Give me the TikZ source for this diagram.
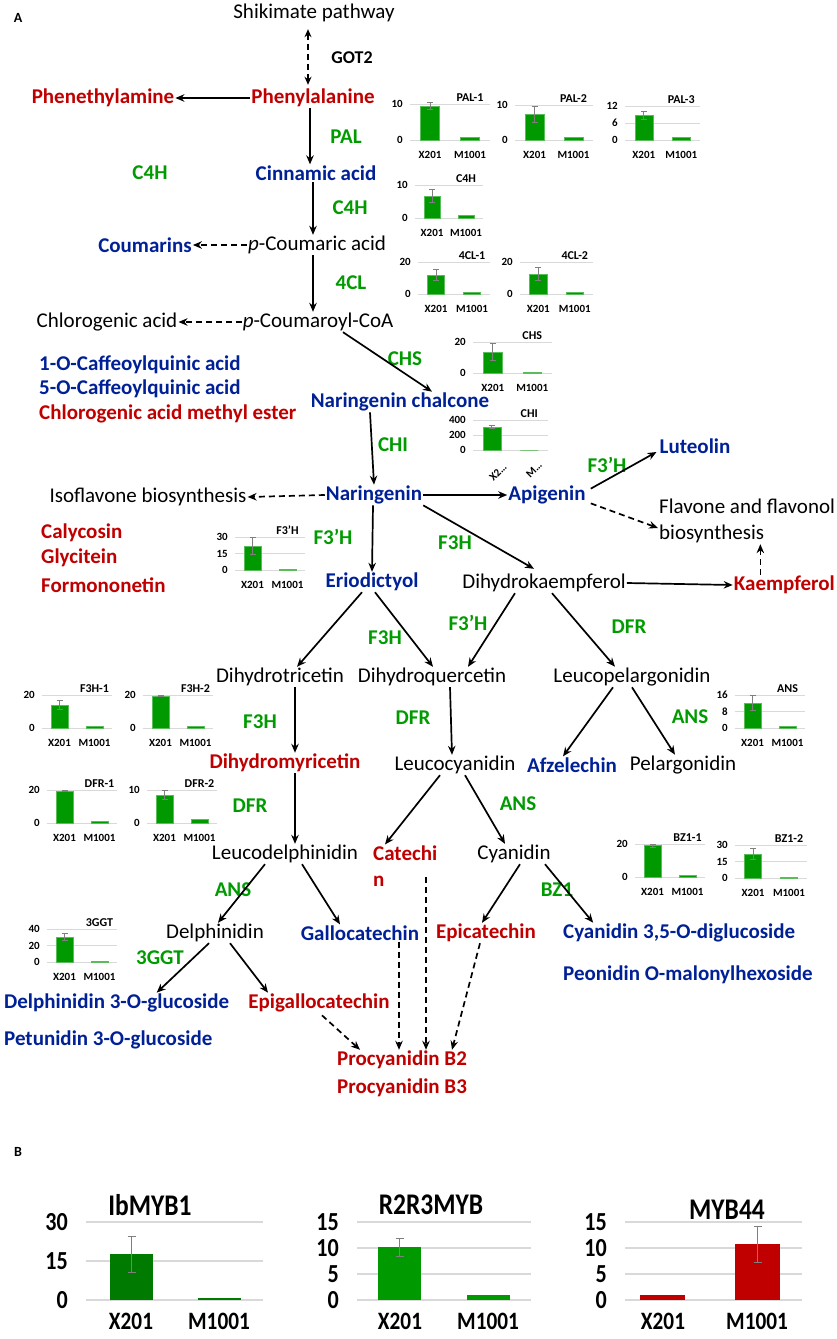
\documentclass[tikz,border=0pt]{standalone}
\usepackage{fontspec}
\setmainfont{Carlito}
\newfontfamily\condfont[FakeStretch=0.85]{Carlito}
\usetikzlibrary{arrows.meta}
\definecolor{pred}{RGB}{192,0,0}
\definecolor{pblue}{RGB}{0,32,150}
\definecolor{pgreen}{RGB}{0,155,0}
\definecolor{barg}{RGB}{0,153,0}
\definecolor{barg1}{RGB}{0,122,0}
\definecolor{barr}{RGB}{192,0,0}
\definecolor{gridg}{RGB}{217,217,217}
\definecolor{errg}{RGB}{127,127,127}

% mini chart: #1 x0, #2 x1, #3 baseline y, #4 top y, #5 title, #6 ticks frac/label, #7 X201 frac, #8 err frac, #9 M1001 frac
\newcommand{\mchart}[9]{%
  \pgfmathsetmacro{\mcw}{#2-#1}%
  \pgfmathsetmacro{\mch}{#3-#4}%
  \foreach \mf/\mt in {#6}{%
    \draw[gridc] (#1,{#3-\mf*\mch}) -- (#2,{#3-\mf*\mch});
    \node[ticklab,anchor=east] at ({#1-7},{#3-\mf*\mch}) {\mt};
  }%
  \draw[barst] ({#1+0.13*\mcw},#3) rectangle ({#1+0.37*\mcw},{#3-#7*\mch});
  \draw[barst] ({#1+0.63*\mcw},#3) rectangle ({#1+0.87*\mcw},{#3-#9*\mch});
  \draw[errst] ({#1+0.25*\mcw},{#3-(#7+#8)*\mch}) -- ({#1+0.25*\mcw},{#3-(#7-#8)*\mch});
  \draw[errst] ({#1+0.25*\mcw-3},{#3-(#7+#8)*\mch}) -- ({#1+0.25*\mcw+3},{#3-(#7+#8)*\mch});
  \draw[errst] ({#1+0.25*\mcw-3},{#3-(#7-#8)*\mch}) -- ({#1+0.25*\mcw+3},{#3-(#7-#8)*\mch});
  \node[ctitle,anchor=base] at ({#1+0.75*\mcw},{#4-3}) {#5};
}
\newcommand{\mlab}[3]{%
  \node[catlab] at ({#1+0.25*(#2-#1)},{#3+15}) {X201};
  \node[catlab] at ({#1+0.75*(#2-#1)},{#3+15}) {M1001};
}

\begin{document}
\begin{tikzpicture}[x=1pt,y=-1pt,
  lblbase/.style={font=\fontsize{21}{26}\selectfont, inner sep=1pt},
  blklbl/.style={lblbase, text=black},
  redlbl/.style={lblbase, font=\bfseries\fontsize{21}{26}\selectfont, text=pred},
  bluelbl/.style={lblbase, font=\bfseries\fontsize{21}{26}\selectfont, text=pblue},
  grnlbl/.style={lblbase, font=\bfseries\fontsize{21}{26}\selectfont, text=pgreen},
  arr/.style={-{Stealth[length=9pt,width=7.5pt]}, line width=1.7pt},
  darr/.style={arr, dash pattern=on 6pt off 4pt},
  ddarr/.style={{Stealth[length=8pt,width=7pt]}-{Stealth[length=8pt,width=7pt]}, line width=1.7pt, dash pattern=on 6pt off 4pt},
  gridc/.style={draw=gridg, line width=0.8pt},
  ticklab/.style={font=\bfseries\fontsize{11}{12}\selectfont, inner sep=0pt},
  barst/.style={fill=barg, draw=barg!65!white, line width=0.5pt},
  errst/.style={draw=errg, line width=0.9pt},
  ctitle/.style={font=\bfseries\fontsize{12}{13}\selectfont, inner sep=0pt},
  catlab/.style={font=\bfseries\fontsize{11}{12}\selectfont, inner sep=0pt},
  bgrid/.style={draw=gridg, line width=1.5pt},
  btick/.style={font=\condfont\bfseries\fontsize{26}{28}\selectfont, inner sep=0pt},
  btitle/.style={font=\condfont\bfseries\fontsize{30}{32}\selectfont, inner sep=0pt},
  bcat/.style={font=\condfont\bfseries\fontsize{25}{27}\selectfont, inner sep=0pt},
  berr/.style={draw=errg, line width=1pt},
  panel/.style={font=\bfseries\fontsize{14}{16}\selectfont, inner sep=0pt}
]
\useasboundingbox (0,0) rectangle (837,1339);
\fill[white] (0,0) rectangle (837,1339);

% ---------------- Panel A: text nodes ----------------
\node[panel] (pA) at (18,18) {A};
\node[blklbl] (shik) at (314,13) {Shikimate pathway};
\node[font=\bfseries\fontsize{18}{20}\selectfont] (got2) at (352,58) {GOT2};
\node[redlbl] (phe) at (313,98) {Phenylalanine};
\node[redlbl] (pea) at (103,98) {Phenethylamine};
\node[grnlbl] (pal) at (346,137) {PAL};
\node[grnlbl] (c4hx) at (150,173) {C4H};
\node[bluelbl] (cin) at (316,173) {Cinnamic acid};
\node[grnlbl] (c4h) at (350,208) {C4H};
\node[blklbl] (pcou) at (317,245) {\textit{p}-Coumaric acid};
\node[bluelbl] (coum) at (145,245) {Coumarins};
\node[grnlbl] (cl4) at (351,283) {4CL};
\node[blklbl] (pcoa) at (318,322) {\textit{p}-Coumaroyl-CoA};
\node[blklbl] (chl) at (107,322) {Chlorogenic acid};
\node[grnlbl] (chs) at (405,359) {CHS};
\node[bluelbl,anchor=west] (caf1) at (38,365) {1-O-Caffeoylquinic acid};
\node[bluelbl,anchor=west] (caf5) at (38,389) {5-O-Caffeoylquinic acid};
\node[redlbl,anchor=west] (cme) at (38,414) {Chlorogenic acid methyl ester};
\node[bluelbl] (nchal) at (400,402) {Naringenin chalcone};
\node[grnlbl] (chi) at (393,445) {CHI};
\node[bluelbl] (nar) at (374,495) {Naringenin};
\node[blklbl] (iso) at (148,497) {Isoflavone biosynthesis};
\node[bluelbl] (api) at (547,495) {Apigenin};
\node[grnlbl] (f3ha) at (607,465) {F3’H};
\node[bluelbl] (lut) at (695,446) {Luteolin};
\node[blklbl,anchor=west,align=left] (flav) at (658,521) {Flavone and flavonol\\biosynthesis};
\node[grnlbl] (f3hb) at (455,543) {F3H};
\node[grnlbl] (f3hc) at (333,537) {F3’H};
\node[redlbl,anchor=west] (caly) at (40,533) {Calycosin};
\node[redlbl,anchor=west] (glyc) at (40,558) {Glycitein};
\node[redlbl,anchor=west] (form) at (40,585) {Formononetin};
\node[bluelbl] (erio) at (372,582) {Eriodictyol};
\node[blklbl] (dhk) at (544,583) {Dihydrokaempferol};
\node[redlbl,anchor=east] (kae) at (836,585) {Kaempferol};
\node[grnlbl] (f3hd) at (385,638) {F3H};
\node[grnlbl] (f3he) at (468,623) {F3’H};
\node[grnlbl] (dfra) at (629,627) {DFR};
\node[blklbl] (dtri) at (280,677) {Dihydrotricetin};
\node[blklbl] (dque) at (432,677) {Dihydroquercetin};
\node[blklbl] (lpel) at (632,677) {Leucopelargonidin};
\node[grnlbl] (f3hf) at (260,722) {F3H};
\node[grnlbl] (dfrb) at (413,718) {DFR};
\node[grnlbl] (ansa) at (690,717) {ANS};
\node[redlbl] (dmyr) at (285,763) {Dihydromyricetin};
\node[blklbl] (lcy) at (455,765) {Leucocyanidin};
\node[bluelbl] (afz) at (572,765) {Afzelechin};
\node[blklbl] (pel) at (683,765) {Pelargonidin};
\node[grnlbl] (dfrc) at (250,806) {DFR};
\node[grnlbl] (ansb) at (518,804) {ANS};
\node[blklbl] (ldel) at (285,854) {Leucodelphinidin};
\node[redlbl,anchor=west,align=left] (cat) at (372,866) {Catechi\\n};
\node[blklbl] (cyan) at (514,854) {Cyanidin};
\node[grnlbl] (ansc) at (233,890) {ANS};
\node[grnlbl] (bz1) at (557,890) {BZ1};
\node[blklbl] (delph) at (215,933) {Delphinidin};
\node[bluelbl] (gallo) at (360,933) {Gallocatechin};
\node[redlbl] (epi) at (486,933) {Epicatechin};
\node[bluelbl,anchor=west] (c35) at (562,933) {Cyanidin 3,5-O-diglucoside};
\node[bluelbl,anchor=west] (peo) at (562,975) {Peonidin O-malonylhexoside};
\node[grnlbl] (ggt) at (160,958) {3GGT};
\node[bluelbl,anchor=west] (d3g) at (3,1003) {Delphinidin 3-O-glucoside};
\node[redlbl] (egc) at (319,1003) {Epigallocatechin};
\node[bluelbl,anchor=west] (pet) at (3,1040) {Petunidin 3-O-glucoside};
\node[redlbl] (pb2) at (402,1060) {Procyanidin B2};
\node[redlbl] (pb3) at (402,1088) {Procyanidin B3};

% ---------------- Panel A: connectors ----------------
\draw[ddarr] ([shift={(-6,6)}]shik.south) -- ([shift={(-5,-3)}]phe.north);
\draw[arr] (phe.west) -- (pea.east);
\draw[arr] ([xshift=-3pt]phe.south) -- ([xshift=-6pt]cin.north);
\draw[arr] ([xshift=-3pt]cin.south) -- ([xshift=-4pt]pcou.north);
\draw[darr] (pcou.west) -- (coum.east);
\draw[arr] ([xshift=-4pt]pcou.south) -- ([xshift=-5pt]pcoa.north);
\draw[darr] (pcoa.west) -- (chl.east);
\draw[arr] ([xshift=25pt]pcoa.south) -- ([xshift=32pt]nchal.north);
\draw[arr] ([xshift=-30pt]nchal.south) -- (nar.north);
\draw[darr] (nar.west) -- (iso.east);
\draw[arr] (nar.east) -- (api.west);
\draw[arr] ([shift={(4,4)}]api.north east) -- ([shift={(-2,6)}]lut.west);
\draw[darr] ([shift={(4,-2)}]api.south east) -- ([shift={(0,7)}]flav.west);
\draw[arr] (nar.south east) -- ([shift={(-10,-4)}]dhk.north);
\draw[arr] ([xshift=-1pt]nar.south) -- (erio.north);
\draw[arr] (dhk.east) -- (kae.west);
\draw[darr] ([xshift=-24pt]kae.north) -- ([xshift=-24pt]kae.north |- flav.south);
\draw[arr] ([xshift=-10pt]erio.south) -- ([xshift=17pt]dtri.north);
\draw[arr] ([xshift=3pt]erio.south) -- ([xshift=1pt]dque.north);
\draw[arr] ([xshift=-29pt]dhk.south) -- ([xshift=36pt]dque.north);
\draw[arr] ([xshift=8pt]dhk.south) -- ([xshift=-17pt]lpel.north);
\draw[arr] ([xshift=15pt]dtri.south) -- ([xshift=10pt]dmyr.north);
\draw[arr] ([xshift=18pt]dque.south) -- ([xshift=-3pt]lcy.north);
\draw[arr] ([xshift=-19pt]lpel.south) -- ([xshift=-9pt]afz.north);
\draw[arr] (lpel.south) -- ([xshift=-8pt]pel.north);
\draw[arr] ([xshift=10pt]dmyr.south) -- ([xshift=10pt]ldel.north);
\draw[arr] ([xshift=-15pt]lcy.south) -- ([xshift=13pt]cat.north west);
\draw[arr] ([xshift=10pt]lcy.south) -- ([xshift=-9pt]cyan.north);
\draw[arr] ([xshift=-20pt]ldel.south) -- ([xshift=3pt]delph.north);
\draw[arr] ([xshift=17pt]ldel.south) -- ([xshift=-20pt]gallo.north);
\draw[arr] ([xshift=6pt]cyan.south) -- ([xshift=-4pt]epi.north);
\draw[arr] ([xshift=31pt]cyan.south) -- ([xshift=-86pt]c35.north);
\draw[arr] ([xshift=-6pt]delph.south) -- ([xshift=40pt]d3g.north);
\draw[arr] ([xshift=15pt]delph.south) -- ([xshift=-51pt]egc.north);
\draw[darr] ([shift={(3,2)}]egc.south) -- ([xshift=-42pt]pb2.north);
\draw[darr] ([xshift=39pt]gallo.south) -- ([xshift=-3pt]pb2.north);
\draw[darr] ([shift={(54,33)}]cat.north west) -- ([xshift=24pt]pb2.north);
\draw[darr] ([xshift=-6pt]epi.south) -- ([xshift=50pt]pb2.north);

% ---------------- Panel A: mini charts ----------------
\mchart{410}{490}{140}{104}{PAL-1}{0/0,1/10}{0.95}{0.1}{0.08}\mlab{410}{490}{140}
\mchart{515}{593}{140}{105}{PAL-2}{0/0,1/10}{0.74}{0.23}{0.08}\mlab{515}{593}{140}
\mchart{625}{700}{140}{106}{PAL-3}{0/0,0.5/6,1/12}{0.72}{0.12}{0.07}\mlab{625}{700}{140}
\mchart{415}{483}{218}{185}{C4H}{0/0,1/10}{0.67}{0.2}{0.08}\mlab{415}{483}{218}
\mchart{418}{490}{294}{262}{4CL-1}{0/0,1/20}{0.6}{0.18}{0.04}\mlab{418}{490}{294}
\mchart{520}{593}{294}{262}{4CL-2}{0/0,1/20}{0.62}{0.2}{0.04}\mlab{520}{593}{294}
\mchart{473}{552}{373}{342}{CHS}{0/0,1/20}{0.68}{0.28}{0.04}\mlab{473}{552}{373}
\mchart{473}{548}{450}{420}{CHI}{0/0,0.5/200,1/400}{0.77}{0.04}{0.0}
\node[catlab,rotate=45] (chix) at (498,472) {X2…};
\node[catlab,rotate=45] (chim) at (534,470) {M…};
\mchart{235}{305}{570}{537}{F3'H}{0/0,0.5/15,1/30}{0.73}{0.27}{0.03}\mlab{235}{305}{570}
\mchart{42}{112}{728}{695}{F3H-1}{0/0,1/20}{0.7}{0.15}{0.05}\mlab{42}{112}{728}
\mchart{143}{213}{728}{695}{F3H-2}{0/0,1/20}{0.97}{0.01}{0.04}\mlab{143}{213}{728}
\mchart{47}{117}{823}{790}{DFR-1}{0/0,1/20}{0.97}{0.01}{0.04}\mlab{47}{117}{823}
\mchart{147}{217}{823}{790}{DFR-2}{0/0,1/10}{0.85}{0.15}{0.1}\mlab{147}{217}{823}
\mchart{735}{805}{728}{695}{ANS}{0/0,0.5/8,1/16}{0.76}{0.22}{0.06}\mlab{735}{805}{728}
\mchart{635}{705}{877}{844}{BZ1-1}{0/0,1/20}{0.95}{0.05}{0.05}\mlab{635}{705}{877}
\mchart{735}{807}{878}{845}{BZ1-2}{0/0,0.5/15,1/30}{0.73}{0.17}{0.03}\mlab{735}{807}{878}
\mchart{47}{117}{962}{929}{3GGT}{0/0,0.5/20,1/40}{0.76}{0.1}{0.02}\mlab{47}{117}{962}

% ---------------- Panel B ----------------
\node[panel] (pB) at (18,1152) {B};
% chart 1
\foreach \yy/\tl in {1300/0,1261/15,1222/30}{
  \draw[bgrid] (86,\yy) -- (263,\yy);
  \node[btick,anchor=east] at (68,\yy) {\tl};
}
\fill[barg1] (110,1300) rectangle (153,1254);
\fill[barg1] (198,1300) rectangle (241,1297.5);
\draw[berr] (131.5,1236) -- (131.5,1272) (127.5,1236) -- (135.5,1236) (127.5,1272) -- (135.5,1272);
\node[btitle] (t1) at (150,1205) {IbMYB1};
\node[bcat] (x1) at (131,1321) {X201};
\node[bcat] (m1) at (219,1321) {M1001};
% chart 2
\foreach \yy/\tl in {1300/0,1274/5,1248/10,1222/15}{
  \draw[bgrid] (357,\yy) -- (531,\yy);
  \node[btick,anchor=east] at (339,\yy) {\tl};
}
\fill[barg] (378,1300) rectangle (421,1247);
\fill[barg] (467,1300) rectangle (510,1294.8);
\draw[berr] (399.5,1238) -- (399.5,1256) (395.5,1238) -- (403.5,1238) (395.5,1256) -- (403.5,1256);
\node[btitle] (t2) at (431,1205) {R2R3MYB};
\node[bcat] (x2) at (400,1321) {X201};
\node[bcat] (m2) at (488,1321) {M1001};
% chart 3
\foreach \yy/\tl in {1300/0,1274/5,1248/10,1222/15}{
  \draw[bgrid] (625,\yy) -- (802,\yy);
  \node[btick,anchor=east] at (607,\yy) {\tl};
}
\fill[barr] (640,1300) rectangle (685,1294.8);
\fill[barr] (735,1300) rectangle (780,1243.8);
\draw[berr] (757.5,1226) -- (757.5,1262) (753.5,1226) -- (761.5,1226) (753.5,1262) -- (761.5,1262);
\node[btitle] (t3) at (727,1210) {MYB44};
\node[bcat] (x3) at (663,1321) {X201};
\node[bcat] (m3) at (757,1321) {M1001};
\end{tikzpicture}
\end{document}
